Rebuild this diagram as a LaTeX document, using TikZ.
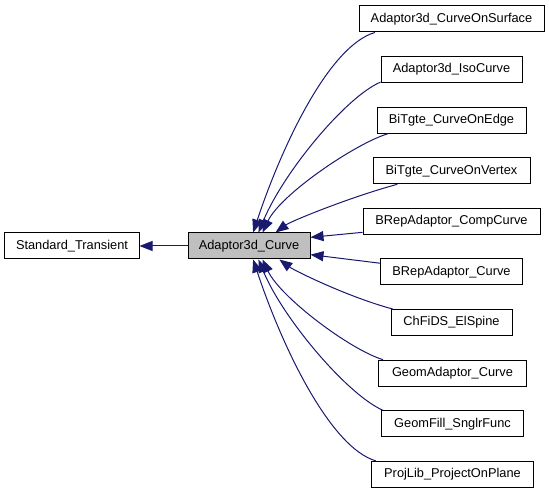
\documentclass[tikz,border=0pt]{standalone}
\usepackage{fontspec}
\setmainfont{Liberation Sans}
\usetikzlibrary{arrows.meta}
\definecolor{edgeblue}{RGB}{25,25,112}
\definecolor{basegray}{RGB}{191,191,191}

\begin{document}
\begin{tikzpicture}[x=1bp,y=1bp,font=\fontsize{12.8bp}{15bp}\selectfont]
    \tikzstyle{box}=[rectangle,draw,fill=white,line width=1bp,minimum height=26bp,inner sep=0pt]
    \tikzstyle{inherit}=[draw=edgeblue,line width=1bp,-{Triangle[length=13bp,width=10bp]},edgeblue]
    \useasboundingbox (0,0) rectangle (549,493);
    \node [box,minimum width=134bp] (st) at (72,247) {Standard\_Transient};
    \node [box,fill=basegray,minimum width=122bp] (curve) at (249,247) {Adaptor3d\_Curve};
    \node [box,minimum width=185bp] (cos) at (451.5,474) {Adaptor3d\_CurveOnSurface};
    \node [box,minimum width=141bp] (iso) at (451.5,423.4) {Adaptor3d\_IsoCurve};
    \node [box,minimum width=149bp] (cedge) at (451.5,372.8) {BiTgte\_CurveOnEdge};
    \node [box,minimum width=157bp] (cvertex) at (451.5,322.2) {BiTgte\_CurveOnVertex};
    \node [box,minimum width=177bp] (comp) at (451.5,271.6) {BRepAdaptor\_CompCurve};
    \node [box,minimum width=142bp] (brep) at (451.5,221) {BRepAdaptor\_Curve};
    \node [box,minimum width=121bp] (spine) at (451.5,170.4) {ChFiDS\_ElSpine};
    \node [box,minimum width=148bp] (gadapt) at (452.5,119.8) {GeomAdaptor\_Curve};
    \node [box,minimum width=142bp] (gfill) at (452.5,69.2) {GeomFill\_SnglrFunc};
    \node [box,minimum width=162bp] (proj) at (452.5,18.6) {ProjLib\_ProjectOnPlane};
    % derived classes -> Adaptor3d_Curve
    \draw [inherit] (cos.190) .. controls +(-45,-13) and +(30,90) .. (curve.73);
    \draw [inherit] (iso.190) .. controls +(-35,-15) and +(25,60) .. (curve.55);
    \draw [inherit] (cedge.192) .. controls +(-33,-10) and +(18,38) .. (curve.45);
    \draw [inherit] (cvertex.194) .. controls +(-48,-13) and +(15,11) .. (curve.27);
    \draw [inherit] (comp.187) -- (curve.8);
    \draw [inherit] (brep.173) -- (curve.-8);
    \draw [inherit] (spine.167) .. controls +(-45,12) and +(15,-11) .. (curve.-24);
    \draw [inherit] (gadapt.169) .. controls +(-33,10) and +(18,-38) .. (curve.-45);
    \draw [inherit] (gfill.169) .. controls +(-35,15) and +(25,-60) .. (curve.-55);
    \draw [inherit] (proj.170) .. controls +(-45,13) and +(30,-90) .. (curve.-73);
    % Adaptor3d_Curve -> Standard_Transient
    \draw [inherit] (curve) -- (st);
  \end{tikzpicture}
\end{document}
